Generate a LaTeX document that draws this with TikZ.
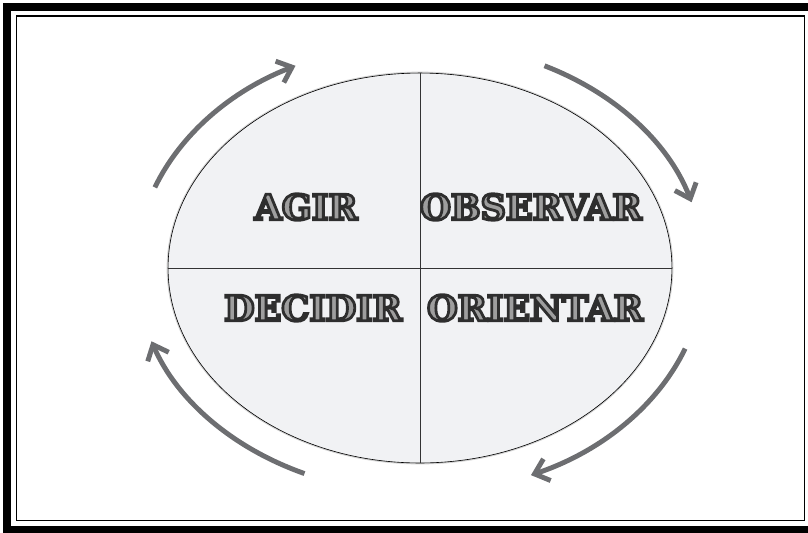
\documentclass[tikz,border=0pt]{standalone}
\usepackage{fontspec}
\usepackage{xcolor}
\usetikzlibrary{arrows.meta,calc,shapes.geometric}
\newfontfamily\signfont{DejaVu Serif}
\definecolor{cyclegray}{HTML}{6D6E71}
\definecolor{quadfill}{HTML}{F1F2F4}
\definecolor{inkgray}{HTML}{333333}
% outlined word: grey face, heavy dark stroke
\newcommand{\signword}[1]{%
  \textcolor{black!38}{\special{pdf:literal 0.18 G 1.6 w 2 Tr}#1\special{pdf:literal 0 Tr}}}

\begin{document}
\begin{tikzpicture}[
  x=0.02cm, y=-0.02cm,
  outerframe/.style={draw=black, line width=4pt},
  innerframe/.style={draw=black, line width=0.85pt},
  board/.style={ellipse, draw=black, line width=0.35pt, fill=quadfill,
                inner sep=0pt, minimum width=10.08cm, minimum height=7.8cm,
                preaction={draw=gray!35, line width=1.6pt}},
  divider/.style={draw=black!80, line width=0.35pt},
  word/.style={font=\signfont\bfseries\fontsize{20}{20}\selectfont, inner sep=0pt},
  cyclearr/.style={draw=cyclegray, line width=2.8pt,
                   -{Straight Barb[length=7.5pt, width=13pt]}}
]
\useasboundingbox (0,0) rectangle (808,532);

% Frame
\draw[outerframe] (7,7) rectangle (812,530);
\draw[innerframe] (16.5,16) rectangle (804.5,520.5);

% Board and quadrants
\node[board] (loop) at (420,268) {};
\draw[divider] (loop.north) -- (loop.south);
\draw[divider] (loop.west) -- (loop.east);

\node[word] (agir) at (306,207) {\signword{AGIR}};
\node[word] (observar) at (531,207) {\signword{OBSERVAR}};
\node[word] (decidir) at (313,308) {\signword{DECIDIR}};
\node[word] (orientar) at (535,308) {\signword{ORIENTAR}};

% Cycle arrows
\coordinate (c) at (420,268);
\coordinate (obsStart) at ($(c)+(296:284 and 225)$);
\coordinate (oriStart) at ($(c)+(21:284 and 225)$);
\coordinate (decStart) at ($(c)+(114:284 and 225)$);
\coordinate (actStart) at ($(c)+(201:284 and 225)$);

\draw[cyclearr] (obsStart) arc[start angle=296, end angle=343, x radius=284, y radius=225];
\draw[cyclearr] (oriStart) arc[start angle=21, end angle=67, x radius=284, y radius=225];
\draw[cyclearr] (decStart) arc[start angle=114, end angle=161, x radius=284, y radius=225];
\draw[cyclearr] (actStart) arc[start angle=201, end angle=244, x radius=284, y radius=225];

\end{tikzpicture}
\end{document}
